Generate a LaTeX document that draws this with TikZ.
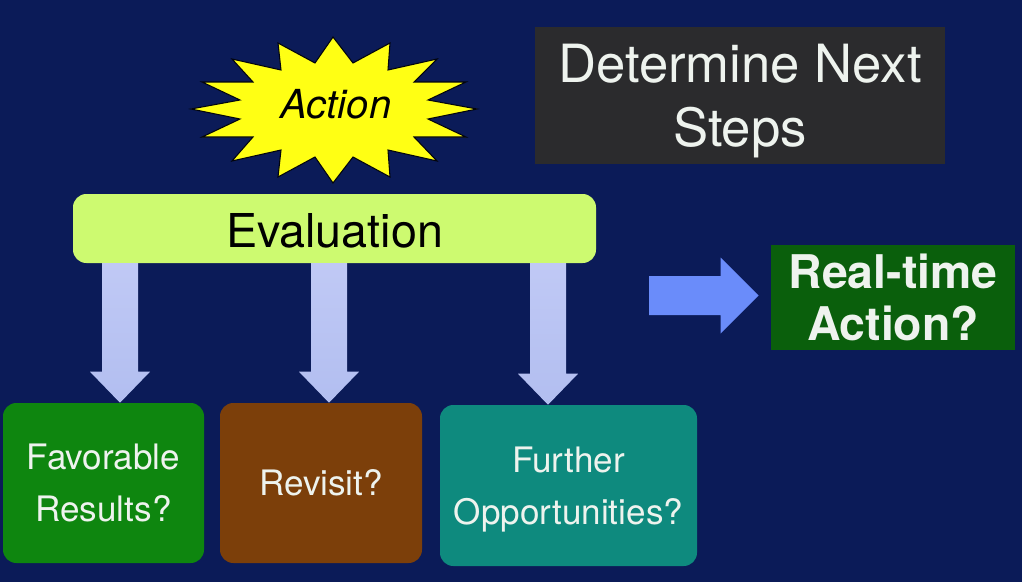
\documentclass[tikz,border=0pt]{standalone}
\usepackage{fontspec}
\setmainfont{TeX Gyre Heros}
\usetikzlibrary{calc}

\definecolor{slidebg}{HTML}{0B1B58}
\definecolor{paletext}{HTML}{EEF3EE}
\definecolor{headbox}{HTML}{2B2B2D}
\definecolor{evalfill}{HTML}{CDFA70}
\definecolor{starfill}{HTML}{FFFF14}
\definecolor{favgreen}{HTML}{0E860F}
\definecolor{revbrown}{HTML}{7C3F0A}
\definecolor{furtherteal}{HTML}{0E8A7E}
\definecolor{realgreen}{HTML}{0A5F0C}
\definecolor{arrowtop}{HTML}{C0C9F5}
\definecolor{arrowbot}{HTML}{B2BEF0}
\definecolor{arrowblue}{HTML}{6A8CFA}

\tikzset{
    answerbox/.style={fill=#1, text=paletext, rounded corners=10, align=center, font=\fontsize{26.3}{39}\selectfont},
}

\newcommand{\downblock}[2]{
    \shade[top color=arrowtop, bottom color=arrowbot]
    ($(#1)+(-18,0)$) -- ($(#1 |- #2)+(-18,-31)$) -- ($(#1 |- #2)+(-30,-31)$) -- (#1 |- #2)
    -- ($(#1 |- #2)+(30,-31)$) -- ($(#1 |- #2)+(18,-31)$) -- ($(#1)+(18,0)$) -- cycle;
}

\begin{document}
\begin{tikzpicture}[x=0.75pt,y=0.75pt,yscale=-1,xscale=1]
    \useasboundingbox (0,0) rectangle (1022,582);
    \fill[slidebg] (0,0) rectangle (1022,582);

    %Title
    \node[fill=headbox, text=paletext, minimum width=307.5pt, minimum height=102.75pt, inner sep=0pt, text height=85pt, align=center, font=\fontsize{39.5}{48}\selectfont] (nextsteps) at (740,95.5) {Determine Next\\Steps};

    %Shape: Star
    \draw[fill=starfill, draw=black!85!slidebg, thick, line join=miter]
    (333,37) -- (353,63) -- (390,43) -- (388,70) -- (437,59) -- (414,82) -- (466,82) -- (428,100)
    -- (477,109) -- (428,119) -- (466,137) -- (414,137) -- (437,161) -- (388,150) -- (390,177) -- (353,157)
    -- (333,183) -- (315,157) -- (278,177) -- (281,150) -- (232,161) -- (253,137) -- (202,137) -- (240,119)
    -- (191,109) -- (240,100) -- (202,82) -- (253,82) -- (232,59) -- (281,70) -- (278,43) -- (315,63) -- cycle;
    \node[font=\fontsize{30}{36}\selectfont\itshape, text=black] (action) at (336,104) {Action};

    %Boxes
    \node[fill=evalfill, text=black, rounded corners=10, minimum width=392.25pt, minimum height=51.75pt, inner sep=0pt, text height=29.5pt, font=\fontsize{35}{40}\selectfont] (evaluation) at (334.5,228.5) {Evaluation};
    \node[answerbox=favgreen, minimum width=150.75pt, minimum height=120pt, inner sep=0pt] (favorable) at (103.5,483) {Favorable\\Results?};
    \node[answerbox=revbrown, minimum width=151.5pt, minimum height=120pt, inner sep=0pt] (revisit) at (321,483) {Revisit?};
    \node[answerbox=furtherteal, minimum width=192.75pt, minimum height=120.75pt, inner sep=0pt, text height=64pt] (further) at (568.5,485.5) {Further\\Opportunities?};
    \node[fill=realgreen, text=paletext, minimum width=183pt, minimum height=78.75pt, inner sep=0pt, align=center, font=\fontsize{34.8}{39}\selectfont\bfseries] (realtime) at (893,297.5) {Real-time\\Action?};

    %Arrows
    \coordinate (favtop) at (120,263);
    \coordinate (revtop) at (329,263);
    \coordinate (furthertop) at (548,263);
    \downblock{favtop}{favorable.north}
    \downblock{revtop}{revisit.north}
    \downblock{furthertop}{further.north}

    \coordinate (bluetail) at (649,295.5);
    \coordinate (bluetip) at ($(realtime.west)+(-12,-2)$);
    \fill[arrowblue] ($(bluetail)+(0,-19.5)$) -- ($(bluetip)+(-38,-19.5)$) -- ($(bluetip)+(-38,-38)$) -- (bluetip)
    -- ($(bluetip)+(-38,38)$) -- ($(bluetip)+(-38,19.5)$) -- ($(bluetail)+(0,19.5)$) -- cycle;
\end{tikzpicture}
\end{document}
